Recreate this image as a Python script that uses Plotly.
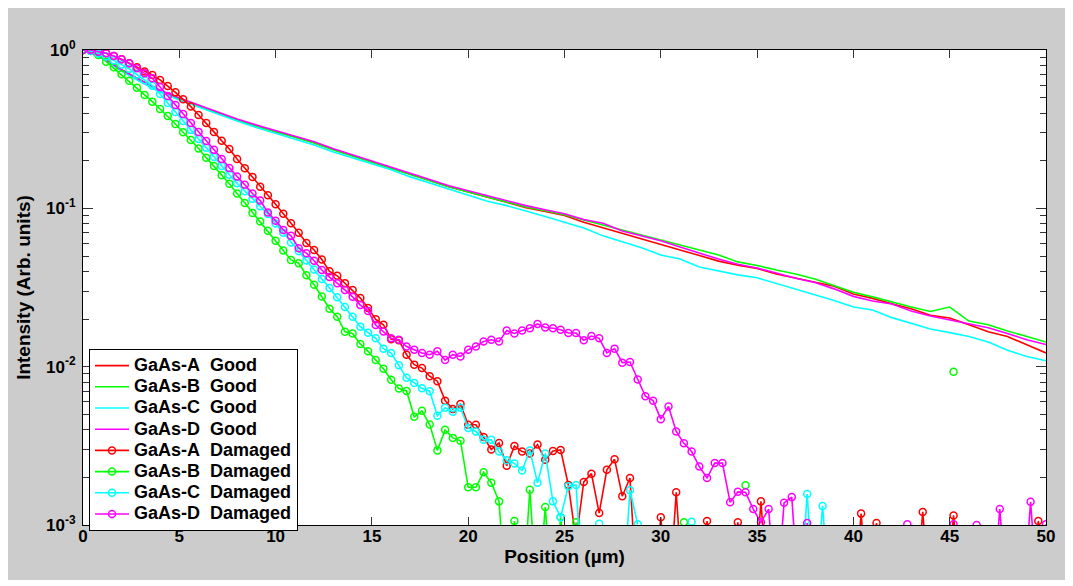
import plotly.graph_objects as go

# ---------------- data ----------------
x_good = list(range(0, 51))                       # µm, 1 µm step
x_dam = [round(0.4 * i, 1) for i in range(126)]   # µm, 0.4 µm step

D = 3e-4   # value below the axis floor (line runs off the bottom)
N = None   # missing (no line)

good_A = [1.0, 0.890, 0.750, 0.640, 0.553, 0.492, 0.445, 0.402, 0.363, 0.333,
          0.305, 0.283, 0.260, 0.236, 0.215, 0.197, 0.180, 0.164, 0.150, 0.137,
          0.127, 0.118, 0.109, 0.101, 0.0955, 0.0900, 0.0817, 0.0753, 0.0690, 0.0637,
          0.0588, 0.0546, 0.0504, 0.0464, 0.0437, 0.0417, 0.0385, 0.0362, 0.0340, 0.0322,
          0.0288, 0.0270, 0.0250, 0.0232, 0.0211, 0.0203, 0.0184, 0.0166, 0.0155, 0.0137,
          0.0122]
good_B = [1.0, 0.890, 0.748, 0.637, 0.551, 0.490, 0.443, 0.400, 0.361, 0.331,
          0.304, 0.282, 0.259, 0.234, 0.214, 0.196, 0.180, 0.163, 0.149, 0.137,
          0.127, 0.118, 0.110, 0.102, 0.0965, 0.0912, 0.0845, 0.0786, 0.0727, 0.0676,
          0.0628, 0.0588, 0.0546, 0.0507, 0.0459, 0.0436, 0.0408, 0.0385, 0.0358, 0.0324,
          0.0295, 0.0276, 0.0256, 0.0238, 0.0223, 0.0238, 0.0194, 0.0184, 0.0168, 0.0155,
          0.0143]
good_C = [1.0, 0.890, 0.737, 0.628, 0.543, 0.483, 0.437, 0.394, 0.356, 0.324,
          0.297, 0.274, 0.251, 0.227, 0.208, 0.191, 0.175, 0.158, 0.145, 0.133,
          0.122, 0.111, 0.104, 0.0965, 0.0888, 0.0817, 0.0752, 0.0670, 0.0614, 0.0563,
          0.0507, 0.0478, 0.0426, 0.0402, 0.0380, 0.0364, 0.0336, 0.0310, 0.0286, 0.0262,
          0.0238, 0.0228, 0.0204, 0.0187, 0.0173, 0.0164, 0.0155, 0.0143, 0.0127, 0.0116,
          0.0109]
good_D = [1.0, 0.890, 0.752, 0.643, 0.558, 0.497, 0.450, 0.406, 0.367, 0.336,
          0.309, 0.286, 0.263, 0.238, 0.218, 0.199, 0.183, 0.166, 0.152, 0.139,
          0.129, 0.120, 0.112, 0.104, 0.0980, 0.0925, 0.0850, 0.0804, 0.0720, 0.0670,
          0.0624, 0.0570, 0.0522, 0.0478, 0.0443, 0.0420, 0.0390, 0.0362, 0.0340, 0.0310,
          0.0278, 0.0260, 0.0249, 0.0225, 0.0209, 0.0197, 0.0186, 0.0176, 0.0162, 0.0148,
          0.0138]

dam_A = [1.0, 0.993, 0.979, 0.953, 0.916, 0.873, 0.824, 0.777, 0.732, 0.695,
         0.647, 0.593, 0.540, 0.488, 0.439, 0.389, 0.346, 0.304, 0.267, 0.237,
         0.205, 0.179, 0.158, 0.137, 0.121, 0.106, 0.0925, 0.0805, 0.0700, 0.0604,
         0.0546, 0.0475, 0.0400, 0.0375, 0.0337, 0.0305, 0.0271, 0.0235, 0.0199, 0.0184,
         0.0149, 0.0147, 0.0119, 0.0103, 0.0098, 0.0087, 0.0081, 0.0061, 0.0054, 0.0058,
         0.0043, 0.0043, 0.0036, 0.0030, 0.0033, 0.00237, 0.00315, 0.00291, 0.00283, 0.00322,
         0.00258, 0.00293, 0.00298, 0.00179, 0.0008, 0.00187, 0.00211, 0.00119, 0.00223, 0.00260,
         0.00152, 0.00198, D, D, D, 0.00112, D, 0.00161, D, D,
         D, 0.00106, D, D, D, 0.00104, D, D, 0.00141, D,
         D, D, D, D, D, D, D, D, D, D,
         D, 0.00118, D, 0.00103, D, D, D, D, D, 0.00121,
         D, D, D, 0.00115, D, D, D, D, D, D,
         D, D, D, D, 0.00106, 0.0005]
dam_B = [1.0, 0.986, 0.930, 0.844, 0.777, 0.702, 0.640, 0.578, 0.520, 0.472,
         0.424, 0.383, 0.341, 0.302, 0.270, 0.239, 0.209, 0.185, 0.162, 0.143,
         0.124, 0.108, 0.0936, 0.0825, 0.0722, 0.0625, 0.0541, 0.0472, 0.0450, 0.0378,
         0.0329, 0.0277, 0.0232, 0.0207, 0.0166, 0.0162, 0.0139, 0.0125, 0.0110, 0.0097,
         0.00826, 0.00728, 0.00703, 0.00482, 0.00526, 0.00431, 0.00296, 0.00399, 0.00355, 0.00340,
         0.00173, 0.00173, 0.00215, 0.00185, 0.00141, D, 0.00106, D, 0.00167, D,
         0.00130, D, 0.00112, D, 0.00104, D, N, N, N, N,
         N, N, N, N, N, N, N, N, 0.00104, N,
         N, N, N, N, N, N, 0.00178, N, N, N,
         N, N, N, N, N, N, N, N, N, N,
         N, N, N, N, N, N, N, N, N, N,
         N, N, N, 0.0093, N, N, N, N, N, N,
         N, N, N, N, N, N]
dam_C = [1.0, 0.985, 0.950, 0.910, 0.860, 0.810, 0.760, 0.700, 0.645, 0.595,
         0.527, 0.462, 0.406, 0.356, 0.313, 0.274, 0.241, 0.211, 0.185, 0.163,
         0.144, 0.128, 0.115, 0.103, 0.092, 0.0802, 0.0700, 0.0609, 0.0535, 0.0469,
         0.0411, 0.0358, 0.0314, 0.0274, 0.0238, 0.0207, 0.0179, 0.0164, 0.0151, 0.0130,
         0.0122, 0.0102, 0.0085, 0.0079, 0.0073, 0.0070, 0.0049, 0.0055, 0.0052, 0.0055,
         0.0041, 0.0039, 0.00345, 0.00345, 0.00291, 0.00256, 0.00245, 0.00221, 0.00296, 0.00185,
         0.00283, 0.00141, 0.00112, 0.00176, 0.00179, D, N, 0.00102, N, N,
         D, 0.00166, 0.00101, N, N, N, N, N, N, 0.00105,
         N, N, N, N, N, N, N, N, N, N,
         N, N, N, D, 0.00157, D, 0.00132, D, N, N,
         N, N, N, N, N, N, N, N, N, N,
         N, N, N, N, N, N, N, N, N, N,
         N, N, N, N, N, N]
dam_D = [1.0, 1.0, 0.976, 0.953, 0.916, 0.873, 0.824, 0.766, 0.713, 0.663,
         0.584, 0.512, 0.449, 0.394, 0.346, 0.304, 0.266, 0.234, 0.205, 0.180,
         0.159, 0.141, 0.124, 0.112, 0.094, 0.0835, 0.0731, 0.0670, 0.0560, 0.0521,
         0.0467, 0.0408, 0.0368, 0.0337, 0.0305, 0.0276, 0.0245, 0.0225, 0.0183, 0.0167,
         0.0151, 0.0148, 0.0134, 0.0128, 0.0122, 0.0119, 0.0125, 0.0110, 0.0119, 0.0116,
         0.0128, 0.0134, 0.0144, 0.0148, 0.0144, 0.0169, 0.0162, 0.0169, 0.0175, 0.0186,
         0.0177, 0.0175, 0.0171, 0.0163, 0.0163, 0.0147, 0.0156, 0.0151, 0.0122, 0.0130,
         0.0106, 0.0107, 0.0083, 0.0065, 0.0061, 0.00466, 0.0056, 0.0039, 0.00328, 0.00291,
         0.00234, 0.00198, 0.00246, 0.00246, 0.00139, 0.00162, 0.00161, 0.00126, 0.00104, 0.00126,
         D, 0.00138, 0.00150, D, 0.00103, D, N, N, N, N,
         N, N, N, N, N, N, N, 0.00101, N, N,
         N, N, N, 0.00101, N, N, 0.00100, N, D, 0.00126,
         D, N, D, 0.00140, D, 0.00101]

samples = ["A", "B", "C", "D"]
colors = ["#ff0000", "#00ff00", "#00ffff", "#ff00ff"]
good_series = [good_A, good_B, good_C, good_D]
dam_series = [dam_A, dam_B, dam_C, dam_D]

y_tickvals = [1e-3, 1e-2, 1e-1, 1.0]
y_ticktext = ["10<sup>-3</sup>", "10<sup>-2</sup>", "10<sup>-1</sup>", "10<sup>0</sup>"]
y_minor = [m * 10.0 ** e for e in (-3, -2, -1) for m in range(2, 10)]
x_tickvals = list(range(0, 51, 5))

FONT = "Liberation Sans, Arial, sans-serif"


def legend_label(text):
    return '<span style="font-size:18px">' + text + '</span>'


# ---------------- figure ----------------
fig = go.Figure()
for s, c, y in zip(samples, colors, good_series):
    fig.add_trace(go.Scatter(
        x=x_good, y=y, mode="lines", name=legend_label(f"GaAs-{s}\u00a0 Good"),
        line=dict(color=c, width=1.6)))
for s, c, y in zip(samples, colors, dam_series):
    fig.add_trace(go.Scatter(
        x=x_dam, y=y, mode="lines+markers", name=legend_label(f"GaAs-{s}\u00a0 Damaged"),
        connectgaps=False,
        line=dict(color=c, width=1.6),
        marker=dict(symbol="circle-open", size=7, color=c, line=dict(width=1.5, color=c))))

# page is offset by the 8 px body margin
W, H = 1059, 572
L, T = 75, 42
R, B = 19, 55
pw, ph = W - L - R, H - T - B

fig.update_layout(
    width=W, height=H,
    margin=dict(l=L, r=R, t=T, b=B, pad=0),
    paper_bgcolor="#cccccc", plot_bgcolor="white",
    font=dict(family=FONT, color="black"),
    showlegend=True,
    legend=dict(x=(81 - L) / pw, y=1 - (341 - T) / ph, xanchor="left", yanchor="top",
                bgcolor="white", bordercolor="black", borderwidth=1,
                font=dict(family=FONT, size=14, weight="bold", color="black"),
                tracegroupgap=0, itemwidth=34),
    xaxis=dict(range=[0, 50], tickmode="array", tickvals=x_tickvals,
               ticks="inside", ticklen=8, tickwidth=1, tickcolor="#333333",
               showline=True, linecolor="black", linewidth=1, mirror="ticks",
               showgrid=False, zeroline=False, ticklabelstandoff=-4,
               tickfont=dict(family=FONT, size=17, weight="bold"),
               title=dict(text="Position (µm)", standoff=0,
                          font=dict(family=FONT, size=19, weight="bold"))),
    yaxis=dict(type="log", range=[-3, 0], tickmode="array",
               tickvals=y_tickvals, ticktext=y_ticktext,
               ticks="inside", ticklen=10, tickwidth=1, tickcolor="#333333",
               minor=dict(tickmode="array", tickvals=y_minor, ticks="inside",
                          ticklen=6, tickcolor="#333333", showgrid=False),
               showline=True, linecolor="black", linewidth=1, mirror="ticks",
               showgrid=False, zeroline=False, ticklabelstandoff=3,
               tickfont=dict(family=FONT, size=17, weight="bold"),
               title=dict(text="Intensity (Arb. units)", standoff=10,
                          font=dict(family=FONT, size=19, weight="bold"))),
)

fig.write_html("out.html")
